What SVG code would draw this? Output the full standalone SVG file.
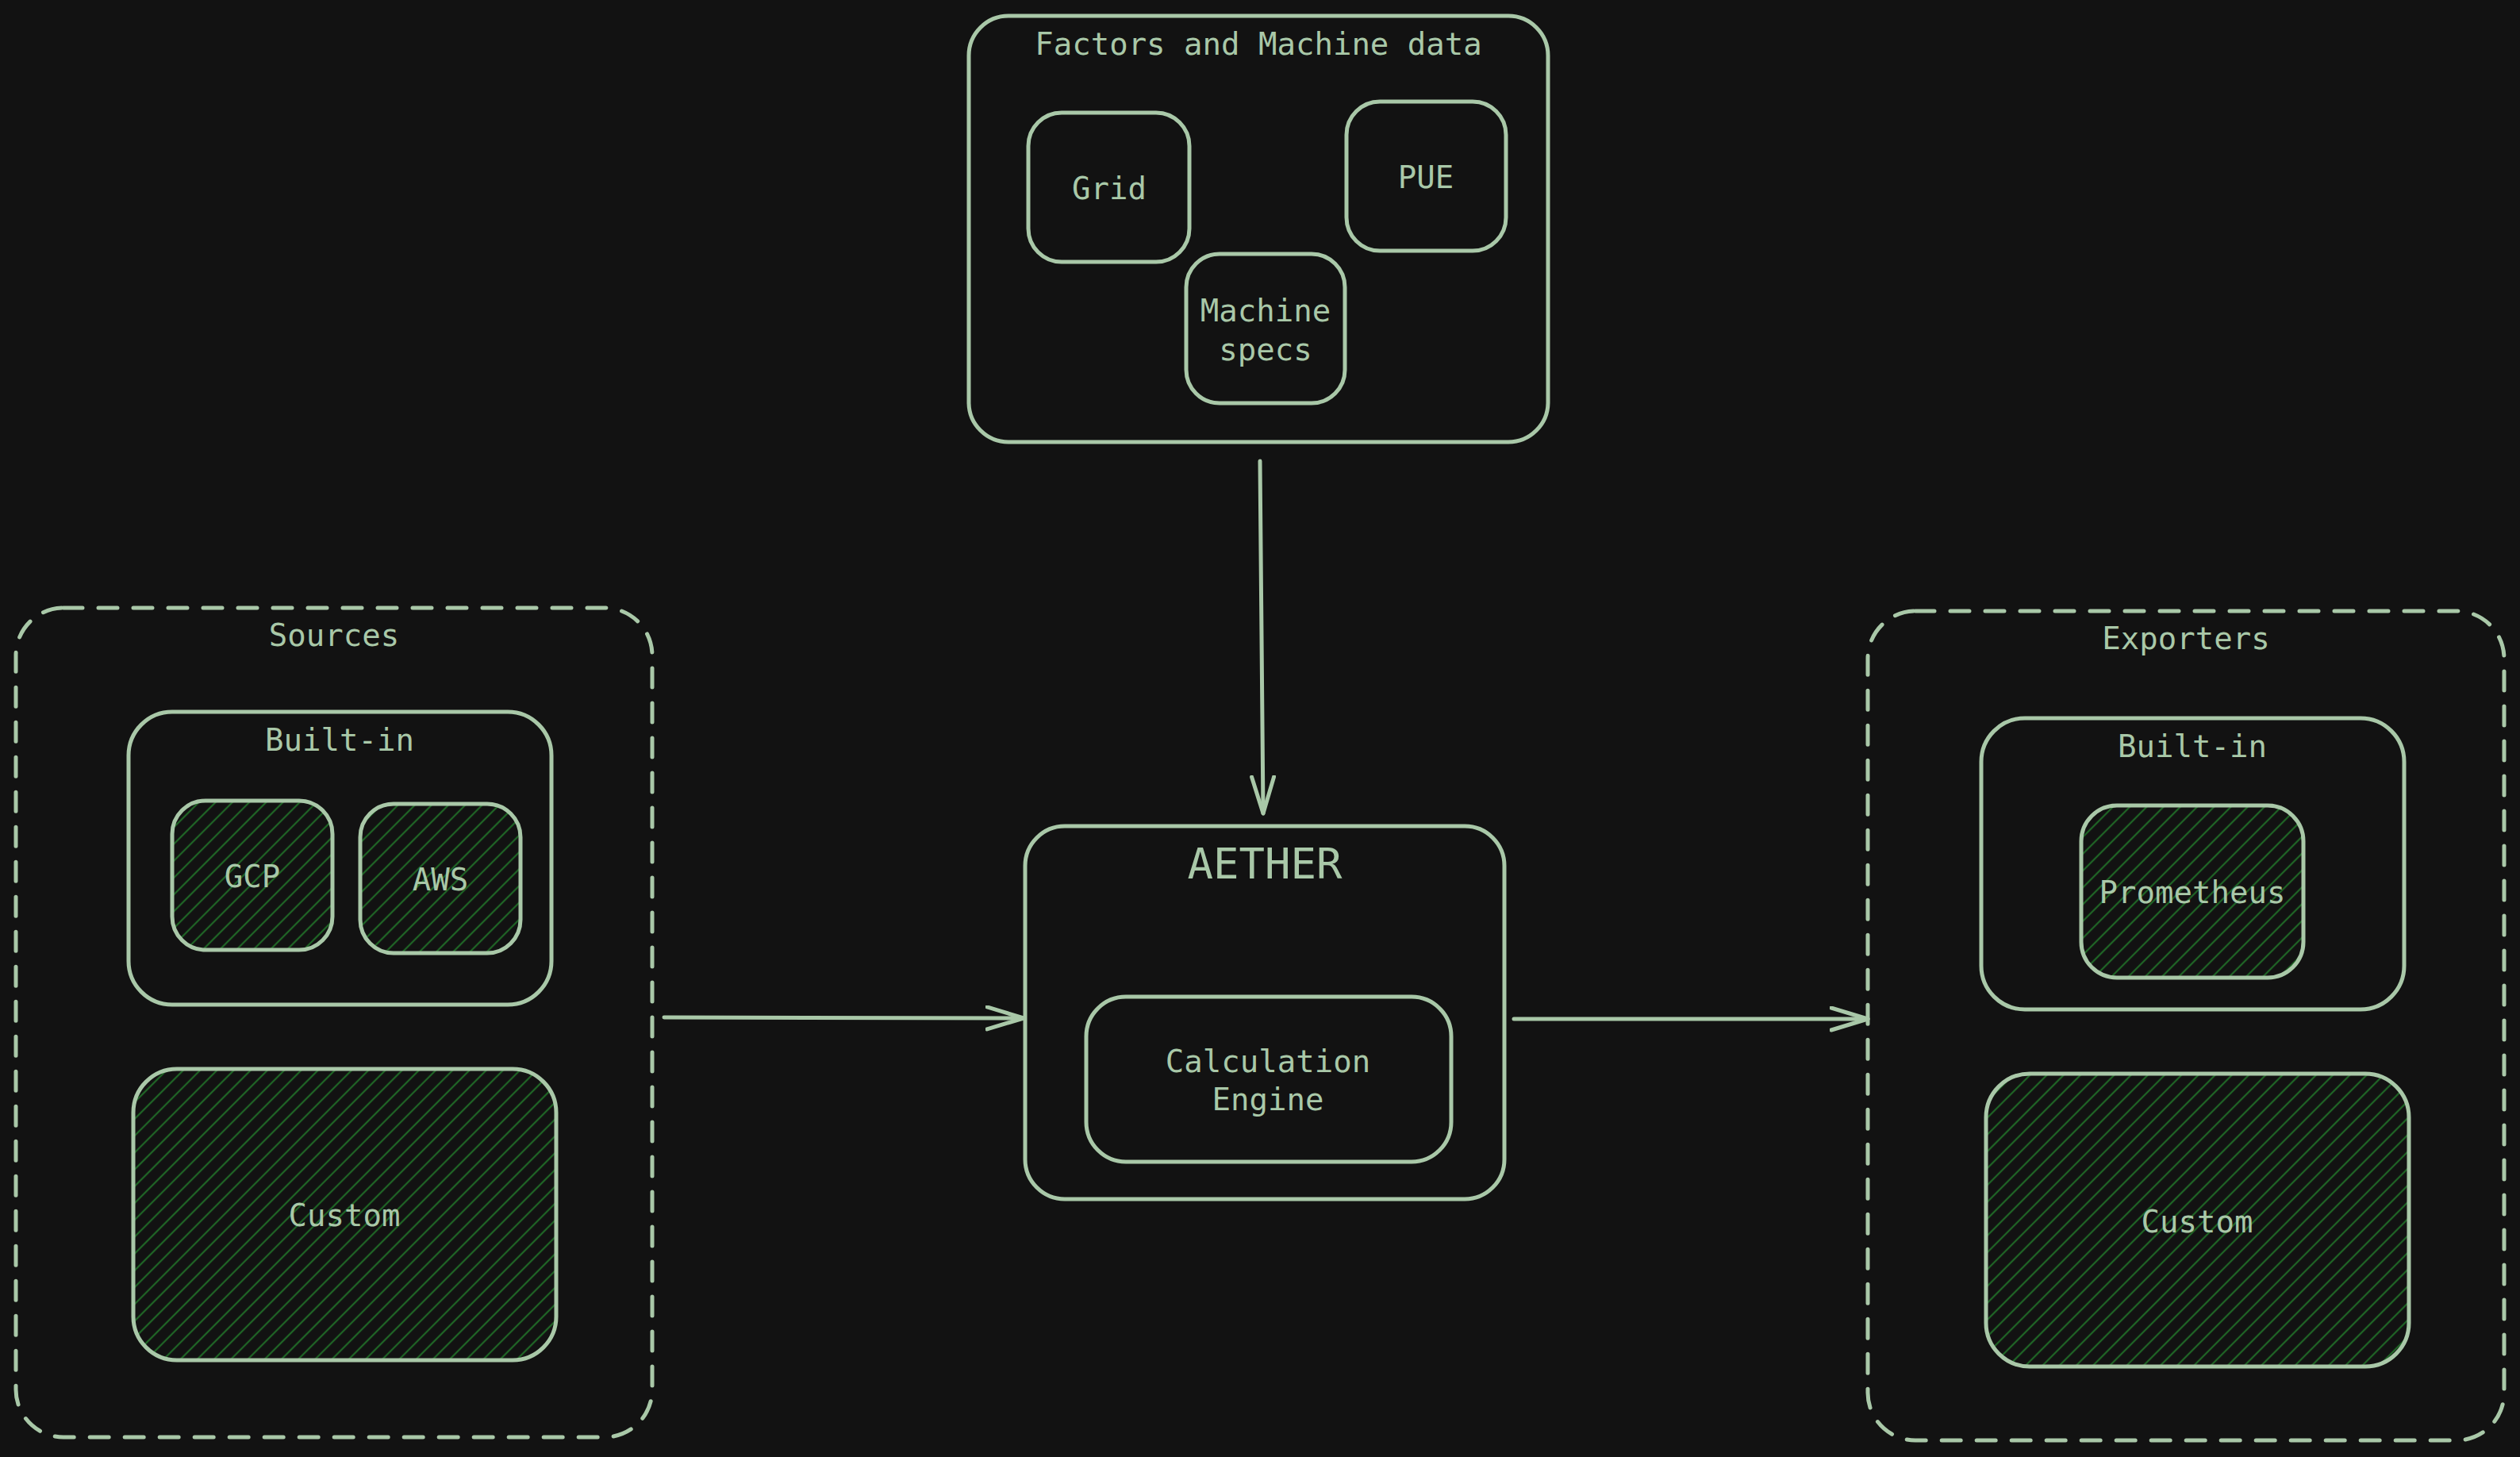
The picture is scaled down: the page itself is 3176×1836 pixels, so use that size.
<svg xmlns="http://www.w3.org/2000/svg" width="3176" height="1836" viewBox="0 0 3176 1836">
<style>
.box{fill:none;stroke:#a9c8a8;stroke-width:5;stroke-linecap:round;stroke-linejoin:round}
.dash{fill:none;stroke:#a9c8a8;stroke-width:5;stroke-dasharray:24 20;stroke-linecap:round}
.hatch{fill:url(#hatch);stroke:#a9c8a8;stroke-width:5}
.t{font-family:"DejaVu Sans Mono","Liberation Mono",monospace;font-size:39px;fill:#a9c8a8;text-anchor:middle;dominant-baseline:central}
.big{font-size:54px}
.conn{fill:none;stroke:#a9c8a8;stroke-width:5;stroke-linecap:round}
</style>
<defs>
<pattern id="hatch" patternUnits="userSpaceOnUse" width="15" height="15" patternTransform="rotate(45)">
<line x1="7" y1="0" x2="7" y2="15" stroke="#1f6526" stroke-width="2.2"/>
</pattern>
<marker id="arr" markerUnits="userSpaceOnUse" markerWidth="60" markerHeight="40" refX="48" refY="16" orient="auto">
<path d="M2,2 L48,16 L2,30" fill="none" stroke="#a9c8a8" stroke-width="5" stroke-linecap="round" stroke-linejoin="round"/>
</marker>
</defs>
<rect width="3176" height="1836" fill="#121212"/>

<g id="factors">
<rect class="box" x="1221" y="20" width="730" height="537" rx="50"/>
<text class="t" x="1586" y="55">Factors and Machine data</text>
</g>
<g id="grid">
<rect class="box" x="1296" y="142" width="203" height="188" rx="42"/>
<text class="t" x="1398" y="237">Grid</text>
</g>
<g id="pue">
<rect class="box" x="1697" y="128" width="201" height="188" rx="42"/>
<text class="t" x="1797" y="223">PUE</text>
</g>
<g id="machine-specs">
<rect class="box" x="1495" y="320" width="200" height="188" rx="42"/>
<text class="t" x="1595" y="391">Machine</text>
<text class="t" x="1595" y="440">specs</text>
</g>

<g id="aether">
<rect class="box" x="1292" y="1041" width="604" height="470" rx="50"/>
<text class="t big" x="1594" y="1088">AETHER</text>
</g>
<g id="calc-engine">
<rect class="box" x="1369" y="1256" width="460" height="208" rx="50"/>
<text class="t" x="1598" y="1337">Calculation</text>
<text class="t" x="1598" y="1385">Engine</text>
</g>

<g id="sources">
<rect class="dash" x="20" y="766" width="802" height="1045" rx="60"/>
<text class="t" x="421" y="800">Sources</text>
</g>
<g id="sources-builtin">
<rect class="box" x="162" y="897" width="533" height="369" rx="55"/>
<text class="t" x="428" y="932">Built-in</text>
</g>
<g id="gcp">
<rect class="hatch" x="217" y="1009" width="202" height="188" rx="42"/>
<text class="t" x="318" y="1104">GCP</text>
</g>
<g id="aws">
<rect class="hatch" x="454" y="1013" width="202" height="188" rx="42"/>
<text class="t" x="555" y="1108">AWS</text>
</g>
<g id="sources-custom">
<rect class="hatch" x="168" y="1347" width="533" height="367" rx="55"/>
<text class="t" x="434" y="1531">Custom</text>
</g>

<g id="exporters">
<rect class="dash" x="2354" y="770" width="802" height="1045" rx="60"/>
<text class="t" x="2755" y="804">Exporters</text>
</g>
<g id="exporters-builtin">
<rect class="box" x="2497" y="905" width="533" height="367" rx="55"/>
<text class="t" x="2763" y="940">Built-in</text>
</g>
<g id="prometheus">
<rect class="hatch" x="2623" y="1015" width="280" height="217" rx="45"/>
<text class="t" x="2763" y="1124">Prometheus</text>
</g>
<g id="exporters-custom">
<rect class="hatch" x="2503" y="1353" width="533" height="369" rx="55"/>
<text class="t" x="2769" y="1539">Custom</text>
</g>

<g id="connectors">
<path class="conn" d="M1588,581 L1592,1025" marker-end="url(#arr)"/>
<path class="conn" d="M837,1282 L1290,1283" marker-end="url(#arr)"/>
<path class="conn" d="M1908,1284 L2354,1284" marker-end="url(#arr)"/>
</g>
</svg>
